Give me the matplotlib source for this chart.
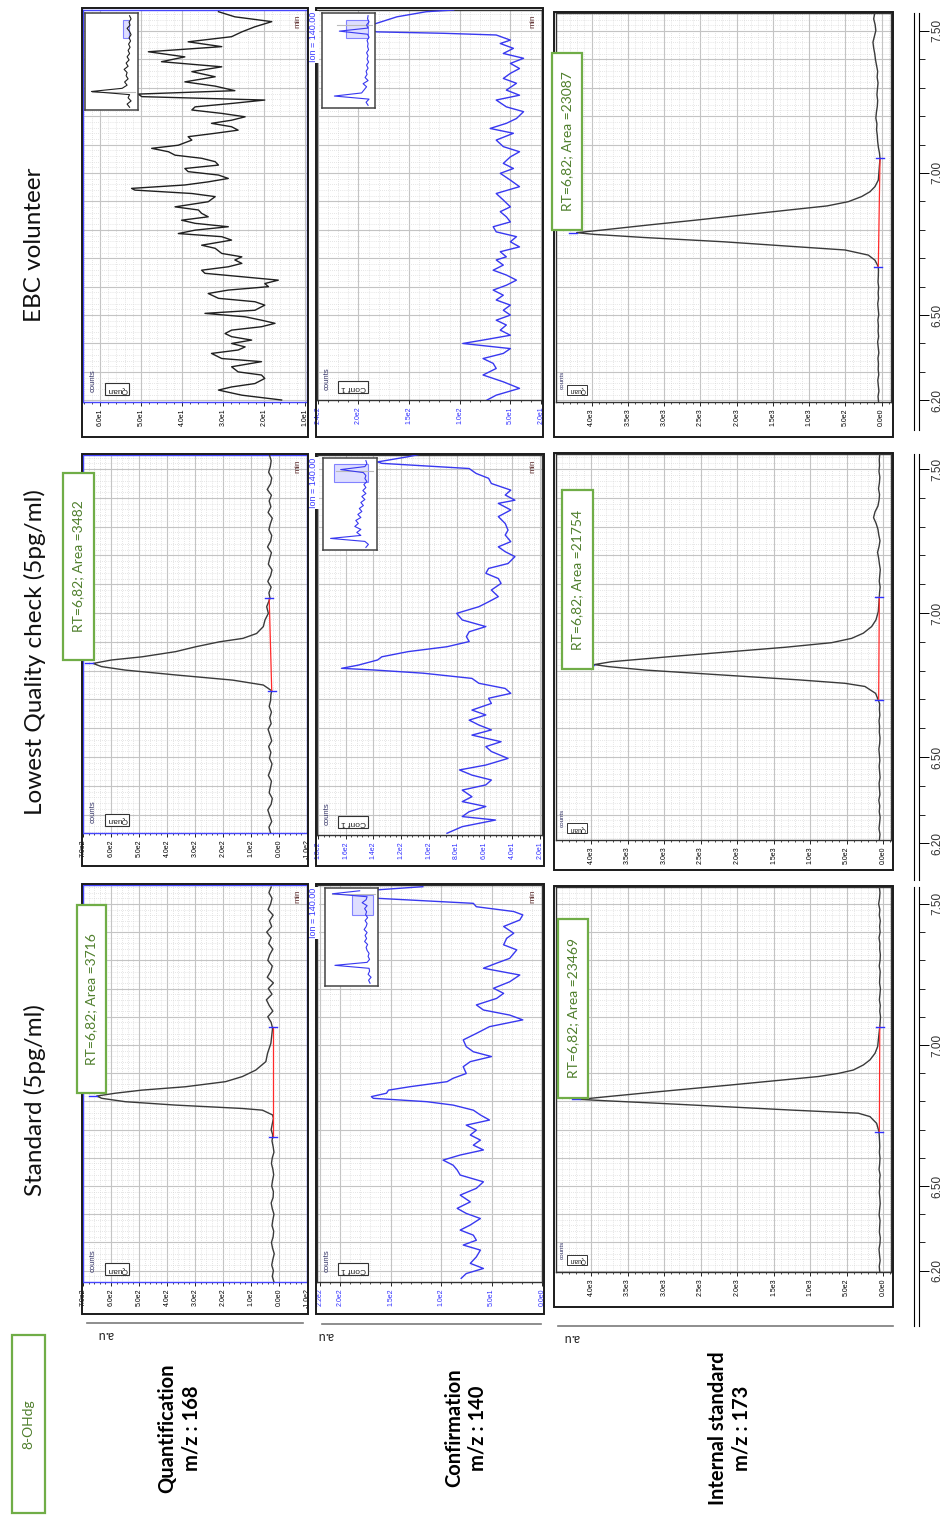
import numpy as np
import matplotlib
matplotlib.use("Agg")
import matplotlib.pyplot as plt
from matplotlib.patches import Rectangle
from matplotlib.ticker import FuncFormatter, MultipleLocator, FixedLocator

plt.rcParams['font.family'] = ['Liberation Sans', 'DejaVu Sans']

W, H = 948, 1515

# ---------------- texts ----------------
col_titles = ["Standard (5pg/ml)", "Lowest Quality check (5pg/ml)", "EBC volunteer"]
row_titles = ["Quantification\nm/z : 168", "Confirmation\nm/z : 140", "Internal standard\nm/z : 173"]
compound = "8-OHdg"
rt_std_quan = "RT=6,82; Area =3716"
rt_lqc_quan = "RT=6,82; Area =3482"
rt_std_is = "RT=6,82; Area =23469"
rt_lqc_is = "RT=6,82; Area =21754"
rt_ebc_is = "RT=6,82; Area =23087"
time_ticks = [6.20, 6.50, 7.00, 7.50]

# ---------------- Standard, quantification m/z 168 ----------------
std_quan_pre = [18, 24, 20, 26, 22, 17, 23, 27, 21, 19, 25, 22, 18, 24, 28, 21, 20, 26, 23, 19,
                22, 27, 24, 18, 21, 25, 22, 28, 24, 20]          # 6.16 -> 6.74
std_quan_peak_t = [6.752, 6.769, 6.775, 6.787, 6.799, 6.811, 6.819, 6.829, 6.840, 6.852, 6.870,
                   6.888, 6.911, 6.941, 6.970, 7.006, 7.059]
std_quan_peak_c = [23, 59, 131, 370, 549, 633, 651, 585, 490, 334, 191, 131, 83, 47, 41, 29, 23]
std_quan_post = [28, 40, 22, 35, 45, 25, 38, 20, 42, 30, 24, 40, 33, 22, 37, 28, 44, 26, 34, 21,
                 39, 30, 25, 36, 28]                             # 7.08 -> 7.56

# ---------------- LQC, quantification ----------------
lqc_quan_pre = [30, 36, 26, 33, 40, 28, 24, 35, 31, 27, 38, 30, 25, 34, 29, 37, 26, 32, 39, 28,
                33, 27, 35, 30, 29]                              # 6.236 -> 6.716
lqc_quan_peak_t = [6.730, 6.750, 6.767, 6.785, 6.802, 6.814, 6.825, 6.837, 6.848, 6.866, 6.883,
                   6.900, 6.912, 6.929, 6.953, 6.976, 6.999, 7.022, 7.051]
lqc_quan_peak_c = [26, 56, 165, 369, 550, 634, 664, 598, 489, 369, 297, 213, 129, 80, 56, 50, 38, 44, 32]
lqc_quan_post = [36, 28, 40, 30, 25, 38, 33, 27, 41, 30, 26, 36, 31, 24, 39, 29, 35, 27, 42, 30,
                 26, 37, 31, 28, 34]                             # 7.07 -> 7.549

# ---------------- EBC, quantification ----------------
ebc_quan_t = [6.201, 6.218, 6.236, 6.247, 6.259, 6.277, 6.289, 6.300, 6.318, 6.336,
              6.347, 6.365, 6.377, 6.388, 6.400, 6.412, 6.424, 6.435, 6.447, 6.459,
              6.471, 6.482, 6.494, 6.506, 6.517, 6.535, 6.547, 6.559, 6.576, 6.588,
              6.600, 6.611, 6.623, 6.635, 6.647, 6.658, 6.670, 6.682, 6.694, 6.705,
              6.717, 6.735, 6.746, 6.764, 6.776, 6.787, 6.799, 6.811, 6.823, 6.834,
              6.846, 6.858, 6.870, 6.881, 6.899, 6.917, 6.928, 6.940, 6.946, 6.958,
              6.969, 6.981, 6.993, 7.005, 7.016, 7.028, 7.040, 7.052, 7.063, 7.075,
              7.087, 7.098, 7.116, 7.128, 7.140, 7.151, 7.163, 7.175, 7.186, 7.198,
              7.210, 7.222, 7.233, 7.245, 7.257, 7.269, 7.278, 7.290, 7.306, 7.321,
              7.339, 7.357, 7.374, 7.392, 7.409, 7.427, 7.445, 7.462, 7.480, 7.497,
              7.515, 7.533, 7.550, 7.568]
ebc_quan_c = [15.7, 25.4, 31.1, 27.9, 22.2, 19.8, 20.6, 26.3, 27.9, 20.6,
              30.3, 32.8, 26.3, 24.6, 27.9, 23.0, 27.9, 29.5, 27.9, 20.6,
              17.3, 20.6, 24.6, 34.4, 22.2, 19.8, 22.2, 31.1, 33.6, 28.7,
              18.9, 19.8, 16.5, 25.4, 34.4, 35.2, 28.7, 25.4, 27.1, 25.4,
              30.3, 31.9, 35.2, 27.9, 30.3, 40.9, 36.8, 28.7, 36.8, 40.1,
              33.6, 35.2, 36.0, 41.7, 33.6, 31.9, 37.6, 51.5, 52.3, 39.3,
              33.6, 28.7, 31.1, 38.5, 39.3, 31.1, 31.9, 35.2, 41.7, 43.3,
              47.4, 40.9, 37.6, 38.5, 31.9, 26.3, 27.9, 32.8, 27.9, 24.6,
              30.3, 37.6, 36.8, 27.9, 19.8, 49.8, 50.7, 27.1, 31.9, 39.3,
              31.9, 37.6, 30.3, 45.0, 39.3, 48.2, 30.3, 38.5, 27.9, 25.4,
              22.2, 18.1, 27.1, 31.1]

# ---------------- confirmation m/z 140 ----------------
std_conf_t = [6.173, 6.190, 6.208, 6.226, 6.249, 6.273, 6.291, 6.308, 6.326, 6.344,
              6.362, 6.385, 6.403, 6.421, 6.444, 6.468, 6.492, 6.515, 6.539, 6.557,
              6.574, 6.592, 6.610, 6.628, 6.645, 6.663, 6.681, 6.698, 6.716, 6.734,
              6.752, 6.769, 6.787, 6.799, 6.811, 6.817, 6.829, 6.840, 6.852, 6.870,
              6.882, 6.899, 6.923, 6.941, 6.959, 6.976, 6.994, 7.018, 7.041, 7.065,
              7.089, 7.106, 7.124, 7.142, 7.165, 7.183, 7.201, 7.224, 7.248, 7.272,
              7.290, 7.307, 7.337, 7.355, 7.378, 7.396, 7.420, 7.443, 7.461, 7.473,
              7.490, 7.502, 7.520, 7.532, 7.544, 7.561]
std_conf_c = [80, 75, 58, 71, 65, 61, 78, 65, 68, 81,
              71, 61, 75, 84, 71, 81, 65, 58, 81, 84,
              88, 98, 81, 58, 68, 61, 71, 65, 75, 52,
              61, 68, 88, 114, 167, 169, 154, 152, 131, 94,
              88, 75, 78, 71, 50, 68, 75, 78, 65, 52,
              19, 32, 58, 65, 45, 38, 48, 32, 22, 58,
              45, 32, 25, 38, 35, 28, 38, 22, 19, 28,
              65, 68, 164, 167, 187, 118]

lqc_conf_t = [6.235, 6.258, 6.281, 6.293, 6.310, 6.328, 6.345, 6.362, 6.385, 6.403,
              6.420, 6.437, 6.455, 6.472, 6.495, 6.519, 6.536, 6.553, 6.576, 6.594,
              6.611, 6.628, 6.646, 6.663, 6.686, 6.704, 6.721, 6.738, 6.756, 6.773,
              6.791, 6.802, 6.808, 6.819, 6.837, 6.848, 6.866, 6.883, 6.901, 6.918,
              6.935, 6.953, 6.976, 6.999, 7.022, 7.039, 7.057, 7.080, 7.103, 7.120,
              7.138, 7.155, 7.172, 7.196, 7.213, 7.230, 7.248, 7.271, 7.288, 7.311,
              7.335, 7.358, 7.381, 7.392, 7.410, 7.427, 7.450, 7.468, 7.485, 7.502,
              7.520, 7.525, 7.543, 7.554]
lqc_conf_c = [87, 76, 52, 76, 71, 59, 76, 69, 76, 59,
              55, 69, 78, 59, 43, 55, 59, 48, 69, 55,
              64, 71, 59, 69, 55, 57, 41, 45, 64, 69,
              104, 139, 163, 151, 137, 134, 115, 87, 71, 73,
              71, 59, 76, 80, 64, 57, 50, 55, 48, 50,
              59, 57, 43, 38, 45, 50, 41, 45, 43, 45,
              50, 41, 50, 38, 45, 41, 55, 57, 66, 71,
              134, 137, 115, 104]

ebc_conf_t = [6.201, 6.218, 6.242, 6.265, 6.289, 6.312, 6.330, 6.347, 6.365, 6.382,
              6.400, 6.412, 6.429, 6.447, 6.465, 6.482, 6.500, 6.517, 6.535, 6.553,
              6.570, 6.588, 6.605, 6.623, 6.641, 6.658, 6.676, 6.694, 6.705, 6.723,
              6.740, 6.758, 6.776, 6.793, 6.811, 6.828, 6.846, 6.864, 6.881, 6.905,
              6.928, 6.952, 6.975, 6.999, 7.016, 7.034, 7.057, 7.075, 7.093, 7.116,
              7.140, 7.157, 7.175, 7.192, 7.216, 7.233, 7.257, 7.274, 7.292, 7.316,
              7.333, 7.351, 7.368, 7.386, 7.404, 7.421, 7.439, 7.456, 7.468, 7.486,
              7.492, 7.497, 7.509, 7.550, 7.568, 7.574]
ebc_conf_c = [73, 64, 41, 57, 77, 64, 67, 77, 57, 50,
              97, 77, 50, 60, 54, 64, 50, 57, 50, 64,
              57, 67, 54, 44, 54, 67, 57, 64, 54, 60,
              41, 50, 44, 64, 67, 50, 54, 60, 50, 57,
              64, 41, 50, 60, 47, 57, 50, 41, 57, 64,
              47, 70, 54, 44, 37, 54, 64, 41, 54, 44,
              57, 50, 41, 50, 37, 57, 47, 60, 50, 64,
              116, 182, 198, 162, 133, 106]

# ---------------- internal standard m/z 173 ----------------
std_is_pre = [45, 52, 40, 48, 55, 42, 38, 50, 46, 41, 53, 47, 39, 44, 51, 43, 49, 40, 54, 46,
              42, 50, 45, 48, 52]
std_is_peak_t = [6.693, 6.722, 6.746, 6.758, 6.769, 6.781, 6.793, 6.802, 6.807, 6.817, 6.829,
                 6.843, 6.858, 6.876, 6.888, 6.899, 6.911, 6.929, 6.947, 6.970, 6.994, 7.065]
std_is_peak_c = [56, 88, 179, 339, 1248, 2156, 3065, 3791, 4152, 3768, 3289, 2713, 2088, 1366,
                 887, 613, 408, 270, 179, 111, 74, 45]
std_is_post = [40, 35, 45, 38, 50, 42, 36, 48, 44, 39, 52, 41, 37, 46, 43, 55, 40, 47, 38, 51,
               44, 60, 48, 42, 50]

lqc_is_pre = [50, 42, 55, 47, 40, 52, 45, 58, 43, 49, 54, 41, 47, 53, 44, 50, 57, 46, 42, 51,
              48, 55, 44, 50, 47]
lqc_is_peak_t = [6.698, 6.721, 6.745, 6.756, 6.768, 6.785, 6.802, 6.814, 6.821, 6.831, 6.849,
                 6.866, 6.881, 6.897, 6.912, 6.930, 6.953, 6.976, 7.005, 7.055]
lqc_is_peak_c = [65, 102, 248, 522, 1161, 2211, 3261, 3763, 3955, 3718, 2896, 2074, 1343, 704,
                 430, 270, 156, 97, 65, 51]
lqc_is_post = [48, 40, 52, 45, 38, 50, 60, 75, 55, 42, 58, 70, 95, 130, 110, 70, 55, 48, 62, 50,
               44, 56, 48, 52, 45]

ebc_is_pre = [42, 50, 38, 46, 53, 40, 48, 44, 51, 39, 47, 55, 42, 49, 45, 52, 40, 47, 54, 43,
              48, 41, 50, 46, 44]
ebc_is_peak_t = [6.670, 6.693, 6.711, 6.729, 6.740, 6.758, 6.773, 6.784, 6.790, 6.799, 6.817,
                 6.834, 6.852, 6.870, 6.884, 6.899, 6.917, 6.934, 6.952, 6.975, 7.051]
ebc_is_peak_c = [46, 92, 184, 506, 1149, 2189, 3283, 3968, 4207, 3862, 3214, 2566, 1917, 1269,
                 754, 460, 276, 161, 92, 46, 23]
ebc_is_post = [30, 45, 55, 60, 70, 65, 80, 72, 60, 55, 65, 58, 50, 62, 55, 70, 85, 95, 110, 120,
               100, 80, 90, 110, 95]

# ---------------- overview insets (relative intensity, start -> end of run) ----------------
std_conf_inset = [0.14, 0.17, 0.12, 0.18, 0.15, 0.16, 0.85, 0.2, 0.15, 0.18, 0.16, 0.2, 0.22, 0.19,
                  0.25, 0.21, 0.24, 0.2, 0.26, 0.22, 0.2, 0.24, 0.19, 0.23, 0.21, 0.25, 0.2, 0.3,
                  0.22, 0.2, 0.9, 0.35]
lqc_conf_inset = [0.2, 0.15, 0.22, 0.9, 0.3, 0.38, 0.3, 0.42, 0.35, 0.4, 0.3, 0.36, 0.28, 0.33,
                  0.25, 0.3, 0.22, 0.28, 0.2, 0.26, 0.2, 0.24, 0.18, 0.22, 0.2, 0.25, 0.7, 0.22,
                  0.18, 0.2]
ebc_quan_inset = [0.15, 0.2, 0.12, 0.18, 0.15, 0.92, 0.3, 0.2, 0.25, 0.18, 0.22, 0.2, 0.26, 0.18,
                  0.22, 0.16, 0.2, 0.15, 0.18, 0.14, 0.17, 0.13, 0.16, 0.12, 0.15, 0.2, 0.14,
                  0.16, 0.12, 0.15]
ebc_conf_inset = [0.12, 0.16, 0.1, 0.8, 0.25, 0.2, 0.15, 0.22, 0.12, 0.18, 0.14, 0.16, 0.12, 0.15,
                  0.11, 0.14, 0.12, 0.15, 0.11, 0.13, 0.12, 0.14, 0.1, 0.13, 0.7, 0.12, 0.15, 0.1,
                  0.13, 0.12]

GREEN_EDGE = '#70ad47'
GREEN_TXT = '#4f7f2c'
QUAN_COL = '#3a3a3a'
CONF_COL = '#3838f0'
BLUE = '#4646ff'

fig = plt.figure(figsize=(W / 100, H / 100), dpi=100)


def box(x0, y0, x1, y1):
    return [x0 / W, 1 - y1 / H, (x1 - x0) / W, (y1 - y0) / H]


def fx(x):
    return x / W


def fy(y):
    return 1 - y / H


def sci(v, pos=None):
    if abs(v) < 1e-9:
        return "0.0e0"
    e = int(np.floor(np.log10(abs(v)) + 1e-9))
    return f"{v / 10 ** e:.1f}e{e}"


def frame_rect(x0, y0, x1, y1, ec='#1a1a1a', lw=1.4, fc='none', z=1):
    fig.add_artist(Rectangle((fx(x0), fy(y1)), (x1 - x0) / W, (y1 - y0) / H,
                             transform=fig.transFigure, fill=(fc != 'none'),
                             fc=fc, ec=ec, lw=lw, zorder=z))


def join(pre, pre_rng, pk_t, pk_c, post, post_rng):
    t = np.concatenate([np.linspace(*pre_rng, len(pre)), pk_t, np.linspace(*post_rng, len(post))])
    c = np.concatenate([pre, pk_c, post])
    return t, c


def chrom(frame, plot, xlim, ylim, ticks, minor, t, c, color, tag,
          tagcolor='black', blue_frame=False, small=False):
    frame_rect(*frame)
    ax = fig.add_axes(box(*plot))
    ax.plot(c, t, color=color, lw=1.0, zorder=3, clip_on=True)
    ax.set_xlim(*xlim)
    ax.set_ylim(*ylim)
    ax.xaxis.set_major_locator(FixedLocator(ticks))
    ax.xaxis.set_minor_locator(MultipleLocator(minor))
    ax.xaxis.set_major_formatter(FuncFormatter(sci))
    ax.yaxis.set_major_locator(MultipleLocator(0.1))
    ax.yaxis.set_minor_locator(MultipleLocator(0.02))
    ax.grid(which='major', color='#c4c4c4', lw=0.8, zorder=0)
    ax.grid(which='minor', color='#cfcfcf', lw=0.5, ls=(0, (1, 2)), zorder=0)
    ax.set_axisbelow(True)
    ax.tick_params(axis='y', which='both', left=False, labelleft=False)
    ax.tick_params(axis='x', which='major', length=3, width=0.6, direction='out',
                   labelsize=5, labelrotation=90, pad=1.5, labelcolor=tagcolor)
    ax.tick_params(axis='x', which='minor', length=1.6, width=0.5, direction='out')
    sc = BLUE if blue_frame else '#333333'
    for sp in ax.spines.values():
        sp.set_color(sc)
        sp.set_linewidth(1.0)
    x0, y0, x1, y1 = plot
    if small:
        fig.text(fx(x0 + 6), fy(y1 - 22), 'counts', rotation=90, ha='center', va='center',
                 fontsize=4.5, color='#333366')
        fig.text(fx(x0 + 21), fy(y1 - 12), 'Quan', rotation=180, ha='center', va='center',
                 fontsize=4.8, color='#222222',
                 bbox=dict(boxstyle='square,pad=0.25', fc='white', ec='#333333', lw=0.7))
    else:
        fig.text(fx(x0 + 10), fy(y1 - 21), 'counts', rotation=90, ha='center', va='center',
                 fontsize=5.5, color='#333366')
        fig.text(fx(x0 + (36 if tag != 'Quan' else 34)), fy(y1 - 13), tag, rotation=180,
                 ha='center', va='center', fontsize=6, color='#222222',
                 bbox=dict(boxstyle='square,pad=0.25', fc='white', ec='#333333', lw=0.8))
        fig.text(fx(x1 - 9), fy(y0 + 11), 'min', rotation=90, ha='center', va='center',
                 fontsize=6, color='#5a2a2a')
    return ax


def marks(ax, plot, xlim, t0, c0, t1, c1, tp, cp):
    px = abs(xlim[0] - xlim[1]) / (plot[2] - plot[0])
    d = 4 * px
    ax.plot([c0, c1], [t0, t1], color='#ff2a2a', lw=0.9, zorder=4)
    for tt, cc in [(t0, c0), (t1, c1)]:
        ax.plot([cc - d, cc + d], [tt, tt], color='#3030ff', lw=1.0, zorder=5)
    ax.plot([cp, cp + 2 * d], [tp, tp], color='#3030ff', lw=1.0, zorder=5)


def inset(bx, vals, rect_x, rect_y, color, spike=None):
    ia = fig.add_axes(box(*bx))
    ia.set_facecolor('white')
    y = np.linspace(0, 1, len(vals))
    if spike is not None:
        ia.plot([0.05, spike[0]], [spike[1], spike[1]], color='#bbbbbb', lw=0.8)
    ia.plot(vals, y, color=color, lw=0.8)
    ia.add_patch(Rectangle((rect_x[0], rect_y[0]), rect_x[1] - rect_x[0], rect_y[1] - rect_y[0],
                           fc='#c8c8ff', ec='#3a3aff', lw=0.8, alpha=0.6))
    ia.set_xlim(1.05, -0.02)
    ia.set_ylim(-0.03, 1.03)
    ia.set_xticks([])
    ia.set_yticks([])
    for sp in ia.spines.values():
        sp.set_color('#444444')
        sp.set_linewidth(1.1)


def rt_box(x0, y0, x1, y1, txt):
    frame_rect(x0, y0, x1, y1, ec=GREEN_EDGE, lw=1.6, fc='white', z=10)
    fig.text(fx((x0 + x1) / 2), fy((y0 + y1) / 2), txt, rotation=90, ha='center', va='center',
             fontsize=10, color=GREEN_TXT, family=['Lato', 'DejaVu Sans'], zorder=11)


def time_axis(y_top, y_bot, ylim):
    tax = fig.add_axes(box(914, y_top, 919, y_bot))
    tax.set_facecolor('none')
    tax.set_ylim(*ylim)
    tax.set_xticks([])
    tax.spines['top'].set_visible(False)
    tax.spines['bottom'].set_visible(False)
    for s in ['left', 'right']:
        tax.spines[s].set_linewidth(0.8)
    tax.yaxis.tick_right()
    tax.set_yticks(time_ticks)
    tax.set_yticklabels([f"{v:.2f}" for v in time_ticks])
    tax.set_yticks([6.3, 6.4, 6.6, 6.7, 6.8, 6.9, 7.1, 7.2, 7.3, 7.4], minor=True)
    tax.tick_params(axis='y', which='major', length=7, width=0.7, labelsize=8.5, pad=2)
    tax.tick_params(axis='y', which='minor', length=4, width=0.6)
    for lb in tax.get_yticklabels():
        lb.set_rotation(90)
        lb.set_va('center')
        lb.set_color('#333333')


quan_ticks = [-100, 0, 100, 200, 300, 400, 500, 600, 700]
is_ticks = [0, 500, 1000, 1500, 2000, 2500, 3000, 3500, 4000]

# ================= Standard column =================
t, c = join(std_quan_pre, (6.16, 6.74), std_quan_peak_t, std_quan_peak_c, std_quan_post, (7.08, 7.56))
p = (83, 885, 307, 1282); xl = (700, -100)
ax = chrom((82, 884, 308, 1314), p, xl, (6.16, 7.567), quan_ticks, 20, t, c, QUAN_COL, 'Quan', blue_frame=True)
marks(ax, p, xl, 6.675, 20, 7.065, 20, 6.819, 651)

p = (317, 885, 542, 1282)
chrom((316, 884, 544, 1314), p, (222.8, 0), (6.16, 7.567), [0, 50, 100, 150, 200, 220], 10,
      std_conf_t, std_conf_c, CONF_COL, 'Conf 1', tagcolor='#2f2fff')
inset((325, 888, 378, 986), std_conf_inset, (0.09, 0.5), (0.74, 0.95), CONF_COL, spike=(0.9, 0.97))

t, c = join(std_is_pre, (6.195, 6.68), std_is_peak_t, std_is_peak_c, std_is_post, (7.08, 7.56))
p = (556, 887, 891, 1272); xl = (4480, -109)
ax = chrom((554, 886, 893, 1307), p, xl, (6.195, 7.56), is_ticks, 100, t, c, QUAN_COL, 'Quan', small=True)
marks(ax, p, xl, 6.693, 50, 7.065, 45, 6.807, 4152)
time_axis(887, 1326, (6.004, 7.56))

# ================= Lowest quality check column =================
t, c = join(lqc_quan_pre, (6.236, 6.716), lqc_quan_peak_t, lqc_quan_peak_c, lqc_quan_post, (7.07, 7.549))
p = (83, 455, 307, 833); xl = (700, -100)
ax = chrom((82, 454, 308, 866), p, xl, (6.236, 7.549), quan_ticks, 20, t, c, QUAN_COL, 'Quan', blue_frame=True)
marks(ax, p, xl, 6.730, 26, 7.051, 35, 6.825, 664)

p = (317, 455, 542, 835)
chrom((316, 454, 544, 866), p, (180.7, 18.5), (6.229, 7.549), [20, 40, 60, 80, 100, 120, 140, 160, 180], 4,
      lqc_conf_t, lqc_conf_c, CONF_COL, 'Conf 1', tagcolor='#2f2fff')
inset((323, 458, 377, 550), lqc_conf_inset, (0.16, 0.84), (0.75, 0.96), CONF_COL, spike=(0.8, 0.88))

t, c = join(lqc_is_pre, (6.212, 6.685), lqc_is_peak_t, lqc_is_peak_c, lqc_is_post, (7.07, 7.552))
p = (556, 454, 891, 840); xl = (4480, -109)
ax = chrom((554, 453, 893, 870), p, xl, (6.212, 7.552), is_ticks, 100, t, c, QUAN_COL, 'Quan', small=True)
marks(ax, p, xl, 6.698, 60, 7.055, 51, 6.821, 3955)
time_axis(454, 880, (6.073, 7.552))

# ================= EBC volunteer column =================
p = (83, 10, 307, 402)
chrom((82, 8, 308, 437), p, (64.15, 9.5), (6.194, 7.574), [10, 20, 30, 40, 50, 60], 2,
      ebc_quan_t, ebc_quan_c, '#202020', 'Quan', blue_frame=True)
inset((85, 13, 138, 110), ebc_quan_inset, (0.16, 0.28), (0.76, 0.95), '#202020', spike=(0.9, 0.17))

p = (317, 10, 542, 400)
chrom((316, 8, 543, 437), p, (240.9, 18.8), (6.201, 7.574), [20, 50, 100, 150, 200, 240], 10,
      ebc_conf_t, ebc_conf_c, CONF_COL, 'Conf 1', tagcolor='#2f2fff')
inset((322, 13, 375, 108), ebc_conf_inset, (0.125, 0.56), (0.75, 0.95), CONF_COL, spike=(0.75, 0.9))

t, c = join(ebc_is_pre, (6.194, 6.655), ebc_is_peak_t, ebc_is_peak_c, ebc_is_post, (7.07, 7.563))
p = (556, 13, 891, 402); xl = (4492, -129)
ax = chrom((554, 12, 893, 437), p, xl, (6.194, 7.563), is_ticks, 100, t, c, QUAN_COL, 'Quan', small=True)
marks(ax, p, xl, 6.670, 46, 7.051, 23, 6.790, 4207)
time_axis(13, 430, (6.095, 7.563))

# Ion labels
for yy in (886, 456, 10):
    fig.text(fx(314), fy(yy + 2), 'Ion = 140.00', rotation=90, ha='center', va='top',
             fontsize=6.5, color='#3a3aff', zorder=12,
             bbox=dict(boxstyle='square,pad=0.1', fc='white', ec='none'))

# RT annotations
rt_box(77, 905, 106, 1093, rt_std_quan)
rt_box(63, 473, 94, 660, rt_lqc_quan)
rt_box(558, 919, 588, 1098, rt_std_is)
rt_box(562, 490, 593, 669, rt_lqc_is)
rt_box(552, 53, 582, 230, rt_ebc_is)

# column titles
for txt, yc in zip(col_titles, [1100, 652, 245]):
    fig.text(fx(35), fy(yc), txt, rotation=90, ha='center', va='center', fontsize=17.5,
             color='#111111', family=['Lato', 'DejaVu Sans'])

# a.u axis hints
for (x0, x1, yl, xa) in [(87, 303, 1323, 106), (322, 541, 1324, 325), (558, 893, 1326, 572)]:
    fig.add_artist(plt.Line2D([fx(x0), fx(x1)], [fy(yl), fy(yl)], transform=fig.transFigure,
                              color='#7a7a7a', lw=1.2))
    fig.text(fx(xa), fy(yl + 12), 'a.u', rotation=180, ha='center', va='center', fontsize=9,
             color='#222222', family=['Lato', 'DejaVu Sans'])

# row titles
for txt, xc in zip(row_titles, [179, 466, 730]):
    fig.text(fx(xc), fy(1428), txt, rotation=90, ha='center', va='center', fontsize=14.5,
             fontweight='bold', linespacing=1.25, color='#000000', family=['Lato', 'DejaVu Sans'])

# compound box
frame_rect(12, 1335, 45, 1513, ec=GREEN_EDGE, lw=1.6)
fig.text(fx(28.5), fy(1424), compound, rotation=90, ha='center', va='center', fontsize=10,
         color=GREEN_TXT, family=['Lato', 'DejaVu Sans'])

fig.savefig('out.png', dpi=100)
